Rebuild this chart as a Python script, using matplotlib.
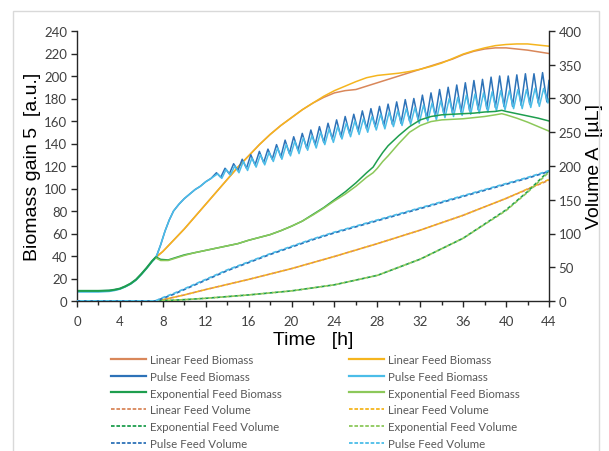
import matplotlib
matplotlib.use("Agg")
import matplotlib.pyplot as plt
from matplotlib.lines import Line2D
from matplotlib.patches import Rectangle
from matplotlib.ticker import MultipleLocator

# ---------------- data ----------------
# shared growth phase before feeding starts
t_early = [0, 1, 2, 3, 3.5, 4, 4.5, 5, 5.5, 6, 6.5, 7, 7.4]
b_early1 = [9, 9, 9, 9.3, 10, 11, 13, 15.5, 19, 24, 29.5, 35.5, 39.5]
b_early2 = [8, 8, 8, 8.5, 9.3, 10.5, 12.5, 15, 18.5, 23.5, 29, 35, 39]

# linear feed biomass
t_lin = [7.5, 8, 9, 10, 11, 12, 13, 14, 15, 16, 17, 18, 19, 20, 21, 22, 23, 24,
         25, 26, 27, 28, 29, 30, 31, 32, 33, 34, 35, 36, 37, 38, 39, 40, 41, 42, 43, 44]
lin1_b = [40, 44, 54, 64, 75, 86, 97, 108, 119, 129, 139, 148, 156, 163, 170, 176, 181, 185,
          187, 188, 191, 194, 197, 200, 203, 206, 209, 212, 215, 219, 222, 224, 225, 225, 224, 223, 221.5, 220]
lin2_b = [40, 44, 54, 64, 75, 86, 97, 108, 119, 129, 139, 148, 156, 163, 170, 176, 182, 187,
          191, 195, 198.5, 200.5, 201.5, 202.5, 204, 206, 208.5, 211.5, 215.5, 219.5, 222.5, 225, 227, 228, 228.5, 228.5, 227.5, 226.5]

# pulse feed biomass (smooth part, then pulse oscillations)
t_pulse_a = [7.4, 7.8, 8.2, 8.6, 9, 9.5, 10, 10.5, 11, 11.5, 12, 12.5]
pulse_a_b = [39.5, 50, 62, 72, 80, 86, 91, 95, 99, 102, 106, 109]

t_pulse1 = [13.0, 13.4, 13.8, 14.2, 14.6, 15.0, 15.4, 15.8, 16.2, 16.6, 17.0, 17.4, 17.8, 18.2,
            18.6, 19.0, 19.4, 19.8, 20.2, 20.6, 21.0, 21.4, 21.8, 22.2, 22.6, 23.0, 23.4, 23.8,
            24.2, 24.6, 25.0, 25.4, 25.8, 26.2, 26.6, 27.0, 27.4, 27.8, 28.2, 28.6, 29.0, 29.4,
            29.8, 30.2, 30.6, 31.0, 31.4, 31.8, 32.2, 32.6, 33.0, 33.4, 33.8, 34.2, 34.6, 35.0,
            35.4, 35.8, 36.2, 36.6, 37.0, 37.4, 37.8, 38.2, 38.6, 39.0, 39.4, 39.8, 40.2, 40.6,
            41.0, 41.4, 41.8, 42.2, 42.6, 43.0, 43.4, 43.8, 44.0]
pulse1_b = [114, 110, 118, 113, 122, 116, 126, 118, 130, 121, 133, 123, 135, 126,
            139, 128, 143, 131, 146, 134, 149, 136, 152, 139, 155, 141, 158, 144,
            161, 146, 164, 149, 166, 151, 169, 153, 171, 155, 173, 156, 175, 157,
            177, 158, 179, 160, 180, 161, 183, 162, 185, 164, 188, 166, 190, 167,
            192, 168, 194, 169, 196, 170, 197, 171, 199, 172, 200, 173, 200, 173,
            201, 174, 202, 175, 202, 176, 203, 177, 196]

t_pulse2 = [13.1, 13.5, 13.9, 14.3, 14.7, 15.1, 15.5, 15.9, 16.3, 16.7, 17.1, 17.5, 17.9, 18.3,
            18.7, 19.1, 19.5, 19.9, 20.3, 20.7, 21.1, 21.5, 21.9, 22.3, 22.7, 23.1, 23.5, 23.9,
            24.3, 24.7, 25.1, 25.5, 25.9, 26.3, 26.7, 27.1, 27.5, 27.9, 28.3, 28.7, 29.1, 29.5,
            29.9, 30.3, 30.7, 31.1, 31.5, 31.9, 32.3, 32.7, 33.1, 33.5, 33.9, 34.3, 34.7, 35.1,
            35.5, 35.9, 36.3, 36.7, 37.1, 37.5, 37.9, 38.3, 38.7, 39.1, 39.5, 39.9, 40.3, 40.7,
            41.1, 41.5, 41.9, 42.3, 42.7, 43.1, 43.5, 43.9, 44.0]
pulse2_b = [113, 109, 117, 112, 120, 114, 124, 116, 127, 119, 130, 121, 132, 124,
            136, 126, 139, 129, 142, 131, 145, 134, 147, 136, 150, 139, 153, 141,
            155, 144, 158, 146, 160, 148, 162, 150, 164, 152, 166, 153, 168, 155,
            169, 156, 171, 157, 172, 158, 174, 160, 176, 161, 178, 163, 180, 164,
            181, 165, 183, 166, 184, 167, 185, 168, 186, 169, 187, 170, 187, 171,
            188, 171, 188, 172, 189, 173, 189, 176, 180]

# exponential feed biomass
t_exp = [7.4, 7.8, 8.5, 9, 10, 11, 12, 13, 14, 15, 16, 17, 18, 19, 20, 21, 22, 23, 24, 25,
         26, 27, 27.6, 28, 28.5, 29, 30, 31, 32, 33, 34, 35, 36, 37, 38, 39, 39.6, 40, 41, 42, 43, 44]
exp1_b = [39, 37, 36.5, 38, 41, 43, 45, 47, 49, 51, 54, 56.5, 59, 62.5, 66.5, 71, 77, 83, 90, 97,
          105, 114, 119, 125, 132, 138, 147, 155, 161, 164, 165.5, 166, 166.5, 167, 168, 168.5, 169.5, 168.5, 166.5, 164.5, 162.5, 160]
exp2_b = [38, 36, 36, 37.5, 40.5, 43, 45, 47, 49, 51, 54, 56.5, 59, 62.5, 66.5, 71, 76.5, 82.5, 89, 95,
          102, 110, 114, 118, 124, 129, 140, 150, 156, 159.5, 161, 161.5, 162, 163, 164, 165.5, 166.5, 165.5, 162.5, 159, 155, 151]

# feed volumes (right axis, uL)
t_vol_lin = [0, 7.5, 10, 12, 16, 20, 24, 28, 32, 36, 40, 44]
lin1_v = [0, 0, 9, 17, 32, 48, 66, 85, 105, 127, 152, 179]
lin2_v = [0, 0, 9, 17, 32, 48, 66, 85, 105, 127, 152, 180]

t_vol_exp = [0, 7.5, 10, 12, 16, 20, 24, 28, 32, 36, 40, 42, 44]
exp1_v = [0, 0, 2, 4, 9, 15, 24, 38, 62, 93, 135, 162, 193]
exp2_v = [0, 0, 2, 4, 9, 15, 24, 38, 62, 93, 134, 161, 191]

t_vol_pulse = [0, 7.3, 8, 9, 10, 12, 14, 16, 18, 20, 22, 24, 26, 28, 30, 32, 34, 36, 38, 40, 42, 44]
pulse1_v = [0, 0, 4, 10, 17, 31, 45, 57, 69, 80, 91, 101, 110, 119, 128, 137, 146, 155, 164, 173, 182, 192]
pulse2_v = [0, 0, 5, 11, 18, 32, 46, 58, 70, 81, 92, 102, 111, 120, 129, 138, 147, 156, 165, 174, 183, 193]

x_ticks = [0, 4, 8, 12, 16, 20, 24, 28, 32, 36, 40, 44]
left_ticks = [0, 20, 40, 60, 80, 100, 120, 140, 160, 180, 200, 220, 240]
right_ticks = [0, 50, 100, 150, 200, 250, 300, 350, 400]

# ---------------- style ----------------
c_lin1, c_lin2 = "#D9875A", "#F5B51E"
c_pul1, c_pul2 = "#2D72B8", "#4BBDE8"
c_exp1, c_exp2 = "#1E9E4E", "#8CC85A"
tick_col = "#404040"

fig = plt.figure(figsize=(6.09, 4.52), dpi=100)
fig.patches.append(Rectangle((13 / 609, -0.05), 586 / 609, 1.05 - 12 / 452,
                             transform=fig.transFigure, fill=False,
                             edgecolor="#d9d9d9", linewidth=1.0))

ax = fig.add_axes([77 / 609, 1 - 302 / 452, (549 - 77) / 609, (302 - 32) / 452])
ax2 = ax.twinx()

lw = 1.1
ax.plot(t_early, b_early1, color=c_pul1, lw=lw)
ax.plot(t_early, b_early2, color=c_pul2, lw=lw)
ax.plot(t_early, b_early1, color=c_exp1, lw=lw + 0.4)

ax.plot(t_lin, lin1_b, color=c_lin1, lw=lw)
ax.plot(t_lin, lin2_b, color=c_lin2, lw=lw)
ax.plot(t_pulse_a + t_pulse1, pulse_a_b + pulse1_b, color=c_pul1, lw=lw)
ax.plot(t_pulse_a + t_pulse2, pulse_a_b + pulse2_b, color=c_pul2, lw=lw)
ax.plot(t_exp, exp1_b, color=c_exp1, lw=lw)
ax.plot(t_exp, exp2_b, color=c_exp2, lw=lw)

dash = (0, (2.2, 1.3))
dash_off = (1.75, (2.2, 1.3))
ax2.plot(t_vol_lin, lin1_v, color=c_lin1, lw=1.2, linestyle=dash)
ax2.plot(t_vol_lin, lin2_v, color=c_lin2, lw=1.2, linestyle=dash_off)
ax2.plot(t_vol_exp, exp1_v, color=c_exp1, lw=1.2, linestyle=dash)
ax2.plot(t_vol_exp, exp2_v, color=c_exp2, lw=1.2, linestyle=dash_off)
ax2.plot(t_vol_pulse, pulse1_v, color=c_pul1, lw=1.3, linestyle=dash)
ax2.plot(t_vol_pulse, pulse2_v, color=c_pul2, lw=1.3, linestyle=dash_off)

ax.set_xlim(0, 44)
ax.set_ylim(0, 240)
ax2.set_ylim(0, 400)
ax.set_xticks(x_ticks)
ax.xaxis.set_minor_locator(MultipleLocator(2))
ax.set_yticks(left_ticks)
ax2.set_yticks(right_ticks)

for lab in ax.get_xticklabels() + ax.get_yticklabels() + ax2.get_yticklabels():
    lab.set_fontfamily(["Lato", "DejaVu Sans"])
    lab.set_fontsize(9.5)
    lab.set_color(tick_col)

for a in (ax, ax2):
    a.spines["top"].set_visible(False)
    for s in a.spines.values():
        s.set_color("#262626")
        s.set_linewidth(1.0)
ax.spines["right"].set_visible(False)
ax2.spines["left"].set_visible(False)
ax2.spines["bottom"].set_visible(False)

ax.tick_params(axis="x", which="major", length=4, width=1, color="#262626", pad=6)
ax.tick_params(axis="x", which="minor", length=3, width=1, color="#262626")
ax.tick_params(axis="y", length=4, width=1, color="#262626", pad=3)
ax2.tick_params(axis="y", length=4, width=1, color="#262626", pad=3)

ax.set_ylabel("Biomass gain 5  [a.u.]", fontsize=14, family="Liberation Sans", labelpad=2)
ax2.set_ylabel("Volume A  [µL]", fontsize=14, family="Liberation Sans", labelpad=3)
ax.set_xlabel("Time   [h]", fontsize=14, family="Liberation Sans", labelpad=3)

# ---------------- legend (two columns) ----------------
def h(color, ls="-"):
    if ls == "-":
        return Line2D([], [], color=color, lw=1.6)
    return Line2D([], [], color=color, lw=1.3, linestyle=(0, (2.0, 1.0)))

left_handles = [h(c_lin1), h(c_pul1), h(c_exp1), h(c_lin1, "--"), h(c_exp1, "--"), h(c_pul1, "--")]
right_handles = [h(c_lin2), h(c_pul2), h(c_exp2), h(c_lin2, "--"), h(c_exp2, "--"), h(c_pul2, "--")]
labels = ["Linear Feed Biomass", "Pulse Feed Biomass", "Exponential Feed Biomass",
          "Linear Feed Volume", "Exponential Feed Volume", "Pulse Feed Volume"]

leg_kw = dict(loc="upper left", frameon=False, borderpad=0, borderaxespad=0,
              handlelength=3.0, handletextpad=0.4, labelspacing=0.5,
              prop={"family": ["Lato", "DejaVu Sans"], "size": 8.3}, labelcolor="#595959")
l1 = fig.legend(left_handles, labels, bbox_to_anchor=(111 / 609, 1 - 355 / 452), **leg_kw)
l2 = fig.legend(right_handles, labels, bbox_to_anchor=(349 / 609, 1 - 355 / 452), **leg_kw)

fig.savefig("out.png", dpi=100)
